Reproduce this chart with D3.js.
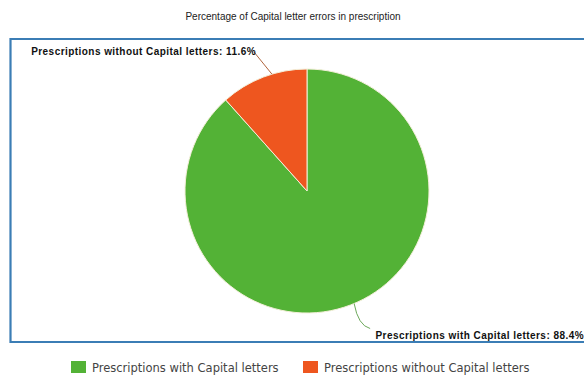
<!DOCTYPE html>
<html><head><meta charset="utf-8">
<script src="https://cdn.jsdelivr.net/npm/d3@7"></script>
<style>body{margin:0;background:#fff}svg{display:block}</style>
</head><body>
<script>
const categories = ["Prescriptions with Capital letters", "Prescriptions without Capital letters"];
const values = [88.4, 11.6];
const colors = ["#53b236", "#ee561f"];
const title = "Percentage of Capital letter errors in prescription";

const W = 584, H = 376;
const svg = d3.select("body").append("svg").attr("width", W).attr("height", H);

svg.append("text").attr("x", 293).attr("y", 20).attr("text-anchor", "middle")
  .attr("font-family", "Liberation Sans, Arial, sans-serif").attr("font-size", 10).attr("fill", "#222")
  .text(title);

// frame
svg.append("path").attr("d", "M590,39 H10.5 V342 H590")
  .attr("fill", "none").attr("stroke", "#3b7db5").attr("stroke-width", 2.2);

const cx = 307, cy = 191, r = 122;
const data = categories.map((c, i) => ({c, v: values[i], col: colors[i]}));
const pie = d3.pie().sort(null).value(d => d.v);
const arcs = pie(data);
const arc = d3.arc().innerRadius(0).outerRadius(r);
const g = svg.append("g").attr("transform", `translate(${cx},${cy})`);
g.selectAll("path").data(arcs).join("path").attr("d", arc)
  .attr("fill", d => d.data.col).attr("stroke", "#f3efd9").attr("stroke-width", 1);

// labels with leader lines
const lblFont = "Liberation Sans, Arial, sans-serif";
function pt(a, rr){ return [cx + rr*Math.sin(a), cy - rr*Math.cos(a)]; }
// orange (index 1)
{
  const a = arcs[1];
  const p0 = pt(a.startAngle + (a.endAngle-a.startAngle)*0.6, r);
  svg.append("path").attr("d", `M${p0[0]},${p0[1]} L254,52`)
    .attr("fill","none").attr("stroke", "#b0643c").attr("stroke-width", 1);
  svg.append("text").attr("x", 256).attr("y", 55).attr("text-anchor","end")
    .attr("font-family", lblFont).attr("font-weight","bold").attr("font-size", 10).attr("fill","#111")
    .attr("letter-spacing", 0.45)
    .text(`${categories[1]}: ${values[1]}%`);
}
// green (index 0)
{
  const p0 = pt(2.745, r);
  svg.append("path").attr("d", `M${p0[0]},${p0[1]} Q${p0[0]+4},${p0[1]+22} ${p0[0]+16},${p0[1]+25}`)
    .attr("fill","none").attr("stroke", "#6ca85a").attr("stroke-width", 1);
  svg.append("text").attr("x", 584).attr("y", 339).attr("text-anchor","end")
    .attr("font-family", lblFont).attr("font-weight","bold").attr("font-size", 10).attr("fill","#111")
    .attr("letter-spacing", 0.45)
    .text(`${categories[0]}: ${values[0]}%`);
}

// legend
const legX = [71, 303];
const lg = svg.append("g");
data.forEach((d, i) => {
  lg.append("rect").attr("x", legX[i]).attr("y", 361).attr("width", 15).attr("height", 12).attr("fill", d.col);
  lg.append("text").attr("x", legX[i] + 21).attr("y", 371.5)
    .attr("font-family", "DejaVu Sans, sans-serif").attr("font-size", 11.5).attr("fill", "#444")
    .text(d.c);
});
</script>
</body></html>
